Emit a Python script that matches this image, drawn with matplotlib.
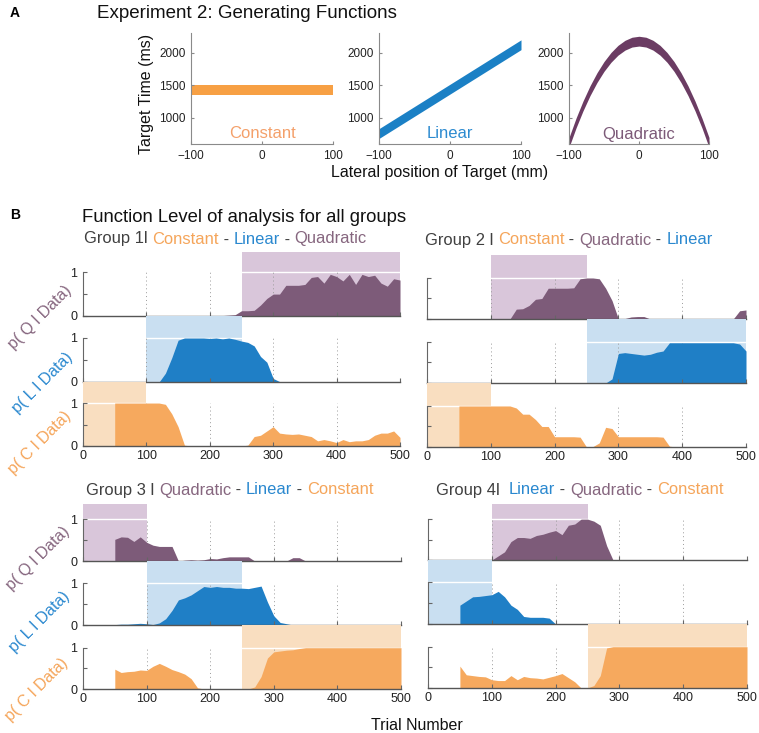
import numpy as np
import matplotlib
matplotlib.use('Agg')
import matplotlib.pyplot as plt

W, H = 759, 733
plt.rcParams['font.family'] = ['Liberation Sans', 'DejaVu Sans']

# ---- panel A: generating functions ----
lat_x = [-100, 100]
const_mid = [1425, 1425]
lin_mid = [760, 2120]
quad_x = [-100, -90, -80, -70, -60, -50, -40, -30, -20, -10, 0,
          10, 20, 30, 40, 50, 60, 70, 80, 90, 100]
quad_mid = [625, 920, 1183, 1416, 1617, 1788, 1927, 2036, 2113, 2160, 2175,
            2160, 2113, 2036, 1927, 1788, 1617, 1416, 1183, 920, 625]
band_hw = 75
func_names = ['Constant', 'Linear', 'Quadratic']

# ---- panel B: posterior per function, trials 50..500 every 10 ----
trials = np.arange(50, 501, 10)

g1_q = [0, 0, 0, 0, 0, 0, 0, 0, 0, 0.01,
        0.01, 0, 0, 0, 0, 0, 0, 0.01, 0.02, 0.03,
        0.12, 0.12, 0.13, 0.25, 0.4, 0.5, 0.5, 0.7, 0.7, 0.7,
        0.72, 0.88, 0.9, 0.75, 0.95, 0.9, 0.8, 0.95, 0.72, 0.95,
        0.9, 0.93, 0.75, 0.68, 0.85, 0.82]
g1_l = [0, 0, 0, 0, 0, 0, 0, 0.0, 0.2, 0.55,
        0.95, 1.0, 1.0, 1.0, 1.0, 0.99, 1.0, 0.98, 1.0, 0.97,
        0.93, 0.9, 0.82, 0.58, 0.45, 0.08, 0.01, 0, 0, 0,
        0, 0, 0, 0, 0, 0, 0, 0, 0, 0,
        0, 0, 0, 0, 0, 0]
g1_c = [1, 1, 1, 1, 1, 1, 1, 1, 0.97, 0.75,
        0.45, 0.02, 0, 0, 0, 0, 0, 0, 0, 0,
        0, 0.02, 0.22, 0.25, 0.35, 0.45, 0.3, 0.28, 0.27, 0.28,
        0.25, 0.22, 0.12, 0.15, 0.12, 0.08, 0.15, 0.1, 0.12, 0.12,
        0.15, 0.25, 0.3, 0.3, 0.35, 0.2]

g2_q = [0, 0, 0, 0, 0, 0, 0, 0, 0, 0.24,
        0.25, 0.33, 0.48, 0.5, 0.75, 0.75, 0.75, 0.75, 0.76, 0.98,
        1.0, 1.0, 0.98, 0.75, 0.45, 0.0, 0.01, 0.05, 0.06, 0.06,
        0, 0, 0, 0, 0, 0, 0, 0, 0, 0,
        0, 0, 0, 0, 0.2, 0.22]
g2_l = [0, 0, 0, 0, 0, 0, 0, 0, 0, 0,
        0, 0, 0, 0, 0, 0, 0, 0, 0, 0,
        0, 0, 0, 0, 0.1, 0.72, 0.74, 0.72, 0.7, 0.68,
        0.7, 0.75, 0.78, 0.98, 0.98, 0.98, 0.98, 0.98, 0.98, 0.98,
        0.98, 0.98, 0.98, 0.98, 0.95, 0.78]
g2_c = [1, 1, 1, 1, 1, 1, 1, 1, 1, 0.95,
        0.8, 0.8, 0.67, 0.5, 0.5, 0.25, 0.25, 0.25, 0.25, 0.24,
        0, 0.01, 0.1, 0.48, 0.45, 0.25, 0.25, 0.25, 0.25, 0.25,
        0.25, 0.25, 0.24, 0.02, 0, 0, 0, 0, 0, 0,
        0, 0, 0, 0, 0, 0]

g3_q = [0.52, 0.58, 0.57, 0.47, 0.58, 0.45, 0.38, 0.35, 0.35, 0.35,
        0, 0.02, 0.03, 0.02, 0.03, 0.06, 0.05, 0.08, 0.1, 0.1,
        0.1, 0.1, 0, 0, 0, 0, 0, 0, 0.08, 0.08,
        0, 0, 0, 0, 0, 0, 0, 0, 0, 0,
        0, 0, 0, 0, 0, 0]
g3_l = [0.01, 0.02, 0.02, 0.03, 0.04, 0.03, 0.01, 0.05, 0.15, 0.35,
        0.6, 0.65, 0.72, 0.82, 0.92, 0.9, 0.92, 0.9, 0.9, 0.88,
        0.88, 0.87, 0.9, 0.93, 0.55, 0.22, 0.06, 0.03, 0, 0,
        0, 0, 0, 0, 0, 0, 0, 0, 0, 0,
        0, 0, 0, 0, 0, 0]
g3_c = [0.48, 0.4, 0.42, 0.43, 0.46, 0.45, 0.55, 0.62, 0.55, 0.47,
        0.42, 0.36, 0.25, 0.03, 0, 0, 0, 0, 0, 0,
        0, 0, 0.05, 0.3, 0.75, 0.9, 0.92, 0.94, 0.95, 0.98,
        1, 1, 1, 1, 1, 1, 1, 1, 1, 1,
        1, 1, 1, 1, 1, 1]

g4_q = [0, 0, 0, 0, 0, 0, 0.1, 0.2, 0.45, 0.55,
        0.55, 0.53, 0.6, 0.63, 0.68, 0.72, 0.62, 0.85, 0.88, 1.0,
        1.0, 0.95, 0.85, 0.35, 0, 0, 0, 0, 0.01, 0,
        0, 0, 0, 0, 0, 0, 0, 0, 0, 0,
        0, 0, 0, 0, 0, 0]
g4_l = [0.45, 0.55, 0.65, 0.66, 0.68, 0.7, 0.78, 0.65, 0.45, 0.35,
        0.18, 0.16, 0.16, 0.16, 0.14, 0, 0, 0, 0, 0,
        0, 0, 0, 0, 0, 0, 0, 0, 0, 0,
        0, 0, 0, 0, 0, 0, 0, 0, 0, 0,
        0, 0, 0, 0, 0, 0]
g4_c = [0.53, 0.32, 0.3, 0.28, 0.27, 0.2, 0.18, 0.18, 0.3, 0.2,
        0.28, 0.25, 0.24, 0.22, 0.26, 0.3, 0.35, 0.25, 0.15, 0,
        0, 0.06, 0.3, 0.97, 1, 1, 1, 1, 1, 1,
        1, 1, 1, 1, 1, 1, 1, 1, 1, 1,
        1, 1, 1, 1, 1, 1]

# which function was trained in which block (start, end)
g1_blocks = {'C': (0, 100), 'L': (100, 250), 'Q': (250, 500)}
g2_blocks = {'C': (0, 100), 'Q': (100, 250), 'L': (250, 500)}
g3_blocks = {'Q': (0, 100), 'L': (100, 250), 'C': (250, 500)}
g4_blocks = {'L': (0, 100), 'Q': (100, 250), 'C': (250, 500)}

# colours
dark = '#404040'
col_bar = {'Q': '#7d5b79', 'L': '#1f7fc6', 'C': '#f6a95e'}
col_shade = {'Q': '#d9c6da', 'L': '#c9dff1', 'C': '#f9dec0'}
col_txt = {'Q': '#86667f', 'L': '#2a88cf', 'C': '#f5a55a'}
col_func = ['#f7a044', '#1b80c5', '#6b3c63']
col_ftxt = ['#f4a06a', '#2d8bd0', '#7c5a78']

fig = plt.figure(figsize=(W / 100, H / 100), dpi=100)
renderer = fig.canvas.get_renderer()


def px_axes(x0, y0, x1, y1):
    return fig.add_axes([x0 / W, 1 - y1 / H, (x1 - x0) / W, (y1 - y0) / H])


def ftext(x, y, s, **kw):
    return fig.text(x / W, 1 - y / H, s, **kw)


def text_w(s, size):
    t = fig.text(0, 0, s + '|', fontsize=size)
    w1 = t.get_window_extent(renderer).width
    t.remove()
    t = fig.text(0, 0, '|', fontsize=size)
    w2 = t.get_window_extent(renderer).width
    t.remove()
    return w1 - w2


def color_title(x, y, parts, size):
    prefix = ''
    for s, c in parts:
        dx = text_w(prefix, size) if prefix else 0
        ftext(x + dx, y, s, color=c, fontsize=size, va='center', ha='left')
        prefix += s


# ---------------- panel A ----------------
ftext(10, 13, 'A', fontsize=10, fontweight='bold', va='center')
ftext(97, 13, 'Experiment 2: Generating Functions', fontsize=13.5, va='center', color='#111111')

boxes_a = [(191, 33, 333, 144), (379, 33, 521, 144), (569, 33, 709, 144)]
curves = [(lat_x, const_mid), (lat_x, lin_mid), (quad_x, quad_mid)]
for i, (box, (cx, cy)) in enumerate(zip(boxes_a, curves)):
    ax = px_axes(*box)
    cy = np.array(cy, dtype=float)
    ax.fill_between(cx, cy - band_hw, cy + band_hw, color=col_func[i], lw=0)
    ax.set_xlim(-100, 100)
    ax.set_ylim(600, 2300)
    ax.set_xticks([-100, 0, 100])
    ax.set_xticklabels(['\u2212100', '0', '100'])
    ax.set_yticks([1000, 1500, 2000])
    for sp in ['top', 'right']:
        ax.spines[sp].set_visible(False)
    for sp in ['left', 'bottom']:
        ax.spines[sp].set_color('#8a8a8a')
    ax.tick_params(direction='in', length=2, color='#8a8a8a', labelsize=8.5,
                   labelcolor='#222222', pad=4)
    ftext((box[0] + box[2]) / 2, 134, func_names[i], color=col_ftxt[i],
          fontsize=12, ha='center', va='center')

ftext(147, 94, 'Target Time (ms)', rotation=90, fontsize=11.5, ha='center', va='center',
      color='#111111')
ftext(440, 173, 'Lateral position of Target (mm)', fontsize=11.5, ha='center', va='center',
      color='#111111')

# ---------------- panel B ----------------
ftext(10, 215, 'B', fontsize=10, fontweight='bold', va='center')
ftext(82, 217, 'Function Level of analysis for all groups', fontsize=13.3, va='center',
      color='#111111')

groups = [
    dict(x=(83, 400), rows=[(252, 316), (316, 382), (382, 446)], tops=[1.46, 1.5, 1.49],
         data={'Q': g1_q, 'L': g1_l, 'C': g1_c}, blocks=g1_blocks, ylab=True,
         title=(84, 239, [('Group 1l ', dark), ('Constant', col_txt['C']), (' - ', dark),
                          ('Linear', col_txt['L']), (' - ', dark), ('Quadratic', col_txt['Q'])])),
    dict(x=(427, 746), rows=[(255, 319), (319, 383), (383, 447)], tops=[1.56, 1.56, 1.56],
         data={'Q': g2_q, 'L': g2_l, 'C': g2_c}, blocks=g2_blocks, ylab=False,
         title=(425, 240, [('Group 2 l ', dark), ('Constant', col_txt['C']), (' - ', dark),
                           ('Quadratic', col_txt['Q']), (' - ', dark), ('Linear', col_txt['L'])])),
    dict(x=(83, 401), rows=[(504, 561), (561, 625), (625, 689)], tops=[1.37, 1.53, 1.55],
         data={'Q': g3_q, 'L': g3_l, 'C': g3_c}, blocks=g3_blocks, ylab=True,
         title=(86, 490, [('Group 3 l ', dark), ('Quadratic', col_txt['Q']), (' - ', dark),
                          ('Linear', col_txt['L']), (' - ', dark), ('Constant', col_txt['C'])])),
    dict(x=(428, 747), rows=[(504, 560), (560, 624), (624, 688)], tops=[1.37, 1.53, 1.55],
         data={'Q': g4_q, 'L': g4_l, 'C': g4_c}, blocks=g4_blocks, ylab=False,
         title=(436, 490, [('Group 4l  ', dark), ('Linear', col_txt['L']), (' - ', dark),
                           ('Quadratic', col_txt['Q']), (' - ', dark), ('Constant', col_txt['C'])])),
]

for g in groups:
    for k, key in enumerate(['Q', 'L', 'C']):
        y0, y1 = g['rows'][k]
        ax = px_axes(g['x'][0], y0, g['x'][1], y1)
        ax.patch.set_alpha(0)
        s, e = g['blocks'][key]
        ax.axvspan(s, e, color=col_shade[key], lw=0, zorder=0)
        ax.plot([s, e], [1, 1], color='white', lw=1, zorder=0.5)
        ax.vlines([100, 200, 300, 400, 500], 0, 1, colors='#9a9a9a', linestyles=(0, (1, 3)),
                  lw=0.7, zorder=0.8)
        ax.fill_between(trials, g['data'][key], color=col_bar[key], lw=0, zorder=1)
        ax.set_xlim(0, 500)
        ax.set_ylim(0, g['tops'][k])
        for sp in ['top', 'right']:
            ax.spines[sp].set_visible(False)
        ax.spines['left'].set_bounds(0, 1)
        ax.spines['left'].set_color('#666666')
        ax.spines['bottom'].set_color('#555555')
        ax.spines['left'].set_linewidth(0.8)
        ax.spines['bottom'].set_linewidth(1.0)
        ax.set_yticks([0, 0.5, 1])
        ax.set_yticklabels(['0', '', '1'] if g['ylab'] else ['', '', ''])
        ax.set_xticks([0, 100, 200, 300, 400, 500])
        if key == 'C':
            ax.set_xticklabels(['0', '100', '200', '300', '400', '500'])
        else:
            ax.set_xticklabels([])
        ax.tick_params(direction='in', length=3, color='#666666', labelsize=9,
                       labelcolor='#222222', pad=3)
        ax.tick_params(axis='y', pad=4)
    color_title(g['title'][0], g['title'][1], g['title'][2], 11.9)

# rotated y labels
lab_pos = [(40, 317, 'Q'), (43, 383, 'L'), (40, 443, 'C'),
           (38, 558, 'Q'), (40, 622, 'L'), (37, 690, 'C')]
for x, y, key in lab_pos:
    ftext(x, y, 'p( %s l Data)' % key, rotation=45, rotation_mode='anchor', fontsize=11.5,
          color=col_txt[key], ha='center', va='center')

ftext(417, 725, 'Trial Number', fontsize=11.5, ha='center', va='center', color='#111111')

fig.savefig('out.png', dpi=100)
